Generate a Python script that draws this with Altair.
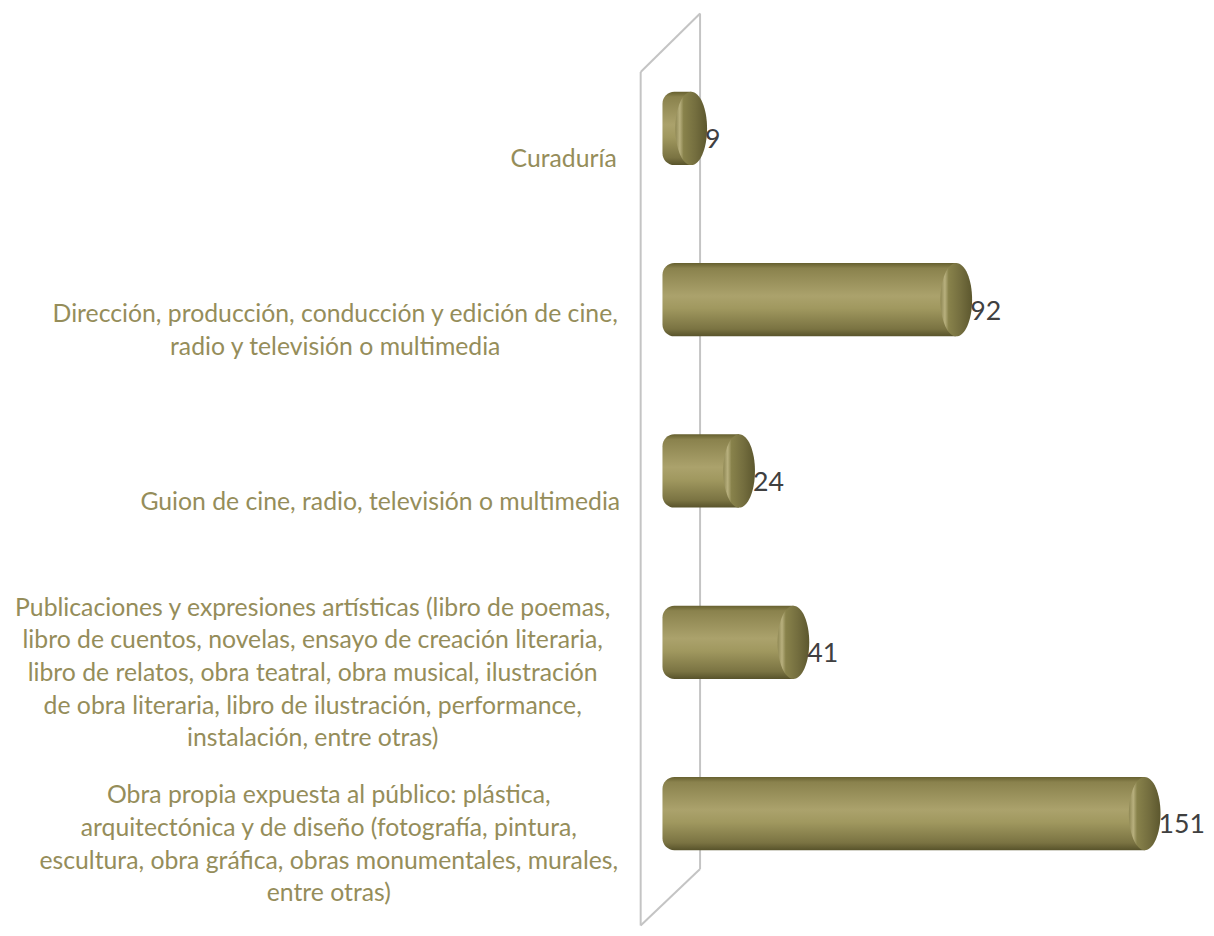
import altair as alt
import pandas as pd

# ---- data ----
categories = [
    "Curaduría",
    "Dirección, producción, conducción y edición de cine, radio y televisión o multimedia",
    "Guion de cine, radio, televisión o multimedia",
    "Publicaciones y expresiones artísticas (libro de poemas, libro de cuentos, novelas, ensayo de creación literaria, libro de relatos, obra teatral, obra musical, ilustración de obra literaria, libro de ilustración, performance, instalación, entre otras)",
    "Obra propia expuesta al público: plástica, arquitectónica y de diseño (fotografía, pintura, escultura, obra gráfica, obras monumentales, murales, entre otras)",
]
values = [9, 92, 24, 41, 151]
label_lines = [
    ["Curaduría"],
    ["Dirección, producción, conducción y edición de cine,", "radio y televisión o multimedia"],
    ["Guion de cine, radio, televisión o multimedia"],
    ["Publicaciones y expresiones artísticas (libro de poemas,",
     "libro de cuentos, novelas, ensayo de creación literaria,",
     "libro de relatos, obra teatral, obra musical, ilustración",
     "de obra literaria, libro de ilustración, performance,",
     "instalación, entre otras)"],
    ["Obra propia expuesta al público: plástica,",
     "arquitectónica y de diseño (fotografía, pintura,",
     "escultura, obra gráfica, obras monumentales, murales,",
     "entre otras)"],
]

# ---- layout / style ----
W, H = 1196, 920
Y_FIRST, Y_LAST = 117, 809          # pixel centres of first / last category
STEP = (Y_LAST - Y_FIRST) / (len(categories) - 1)
LABEL_DY = 31          # label block centre below bar centre (px)
LINE_H = 33            # label line height (px)
LABEL_RIGHT = 606      # right edge of category label blocks (px)
FONT = "Lato"
LABEL_SIZE = 25
LABEL_COLOR = "#958D5A"
VALUE_COLOR = "#404040"
WALL = "#C4C4C4"
BAR_H = 74
CAP_RX = 16

NARROW = set("iljtfrI.,:;()í' ")
WIDE = set("mwMWP")
def est_width(s):
    # rough glyph-width estimate for Lato (em units)
    em = 0.0
    for ch in s:
        em += 0.26 if ch in NARROW else (0.78 if ch in WIDE else 0.52)
    return em * LABEL_SIZE

df = pd.DataFrame({"cat": categories, "value": values})

rows = []
for i, (c, lines) in enumerate(zip(categories, label_lines)):
    n = len(lines)
    cx = LABEL_RIGHT - max(est_width(s) for s in lines) / 2
    for j, s in enumerate(lines):
        rows.append({"cat": c, "line": s, "cx": cx,
                     "ly": i + (LABEL_DY + (j - (n - 1) / 2) * LINE_H) / STEP})
lab = pd.DataFrame(rows)

xscale = alt.Scale(domain=[-203.7, 167.1], nice=False, zero=False)
yscale = alt.Scale(type="band", domain=categories,
                   range=[Y_FIRST - STEP / 2, Y_LAST + STEP / 2],
                   paddingInner=0, paddingOuter=0)

X = alt.X("value:Q", scale=xscale, axis=None)
Y = alt.Y("cat:N", scale=yscale, axis=None, sort=categories)

body_grad = alt.Gradient(
    gradient="linear", x1=0, y1=0, x2=0, y2=1,
    stops=[
        alt.GradientStop(offset=0.0, color="#66602F"),
        alt.GradientStop(offset=0.07, color="#8A824D"),
        alt.GradientStop(offset=0.45, color="#ABA26C"),
        alt.GradientStop(offset=0.62, color="#A0985F"),
        alt.GradientStop(offset=0.9, color="#7A7342"),
        alt.GradientStop(offset=1.0, color="#58532B"),
    ],
)
cap_grad = alt.Gradient(
    gradient="linear", x1=0, y1=0, x2=1, y2=0,
    stops=[
        alt.GradientStop(offset=0.0, color="#8E8753"),
        alt.GradientStop(offset=0.14, color="#B8B07E"),
        alt.GradientStop(offset=0.26, color="#88824B"),
        alt.GradientStop(offset=0.65, color="#736D3E"),
        alt.GradientStop(offset=1.0, color="#5C572E"),
    ],
)

a = CAP_RX / (BAR_H / 2)
k = 0.5523
ka = k * a
ellipse = (f"M{a:.4f},0 C{a:.4f},{k} {ka:.4f},1 0,1 "
           f"C{-ka:.4f},1 {-a:.4f},{k} {-a:.4f},0 "
           f"C{-a:.4f},{-k} {-ka:.4f},-1 0,-1 "
           f"C{ka:.4f},-1 {a:.4f},{-k} {a:.4f},0 Z")

one = pd.DataFrame({"k": [0]})
def seg(x1, y1, x2, y2):
    return alt.Chart(one).mark_rule(color=WALL, strokeWidth=2).encode(
        x=alt.value(x1), y=alt.value(y1), x2=alt.value(x2), y2=alt.value(y2))

wall = (seg(635, 60, 635, 922) + seg(695, 1, 695, 865) +
        seg(635, 60, 695, 1) + seg(635, 922, 695, 865))

base = alt.Chart(df)
body = base.mark_bar(size=BAR_H, color=body_grad, cornerRadiusTopLeft=12,
                     cornerRadiusBottomLeft=12).encode(
    x=alt.X("zero:Q", scale=xscale, axis=None), x2="value:Q", y=Y
).transform_calculate(zero="0")
cap = base.mark_point(shape=ellipse, size=BAR_H * BAR_H, filled=True,
                      fill=cap_grad, opacity=1, strokeWidth=0).encode(x=X, y=Y)
vals = base.mark_text(align="left", baseline="middle", dx=CAP_RX - 2, dy=12,
                      fontSize=27, font=FONT, color=VALUE_COLOR).encode(
    x=X, y=Y, text="value:Q")
labels = alt.Chart(lab).mark_text(align="center", baseline="middle",
                                  fontSize=LABEL_SIZE, font=FONT, color=LABEL_COLOR).encode(
    x=alt.X("cx:Q", scale=None),
    y=alt.Y("ly:Q", scale=alt.Scale(domain=[0, len(categories) - 1],
                                    range=[Y_FIRST, Y_LAST], nice=False, zero=False),
            axis=None),
    text="line:N")

chart = alt.layer(wall, body, cap, vals, labels).resolve_scale(
    y="independent"
).properties(
    width=W, height=H, background="white",
    padding={"left": 4, "top": 0, "right": 0, "bottom": 0}
).configure_view(stroke=None)

chart.save("out.html", embed_options={"renderer": "svg", "actions": False})
